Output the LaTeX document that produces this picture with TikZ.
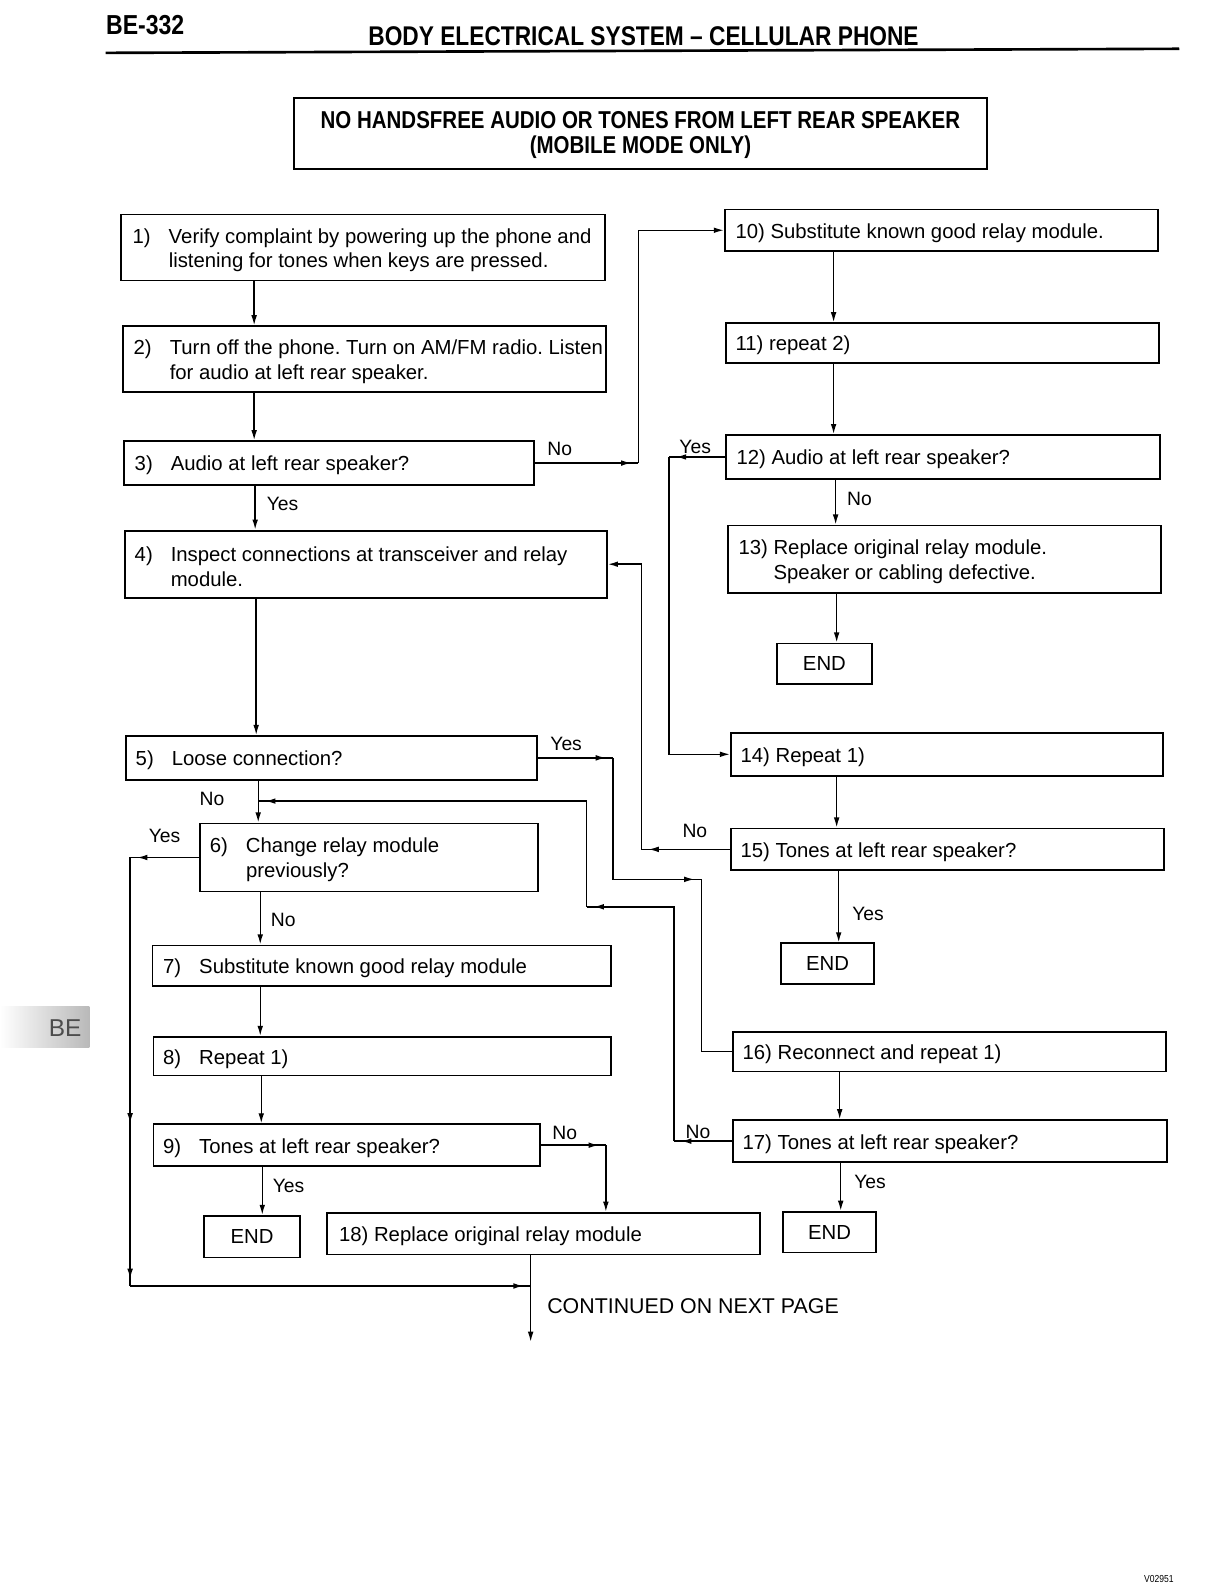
\documentclass[tikz,border=0pt]{standalone}
\usepackage{fontspec}
\setmainfont{Liberation Sans}
\newfontfamily\hdfont[FakeStretch=0.84]{Liberation Sans}
\usetikzlibrary{arrows.meta,fit,decorations.markings}
\newcommand\nm[1]{\makebox[17.75pt][l]{#1}}
\newcommand\mkbox[5]{%
  \coordinate (#1-a) at (#2,#3);
  \coordinate (#1-b) at (#4,#5);
  \node[bx,fit=(#1-a)(#1-b)] (#1) {};}
\AtBeginDocument{\frenchspacing}
\begin{document}
\begin{tikzpicture}[x=0.5pt,y=-0.5pt,
  bx/.style={draw,line width=0.9pt,inner sep=0pt},
  ln/.style={line width=0.7pt},
  arr/.style={ln,-{Latex[length=5pt,width=2.8pt]}},
  tipc/.style={ln,postaction={decorate},decoration={markings,
      mark=at position -3.5pt with {\arrow{Latex[length=5pt,width=2.8pt]}}}},
  txt/.style={font=\frenchspacing\fontsize{10}{12.2}\selectfont,align=left,inner sep=0pt,anchor=west,yshift=-1.3pt},
  lab/.style={font=\fontsize{9.5}{11}\selectfont,inner sep=0pt,anchor=west},
  endt/.style={font=\fontsize{10}{12}\selectfont,inner sep=0pt}
]
\useasboundingbox (0,0) rectangle (1190,1568);

% header
\node[anchor=west,inner sep=0pt,font={\hdfont\bfseries\fontsize{13.5}{15}\selectfont}] (pg) at (104,25) {BE-332};
\node[anchor=west,inner sep=0pt,font={\hdfont\bfseries\fontsize{13.3}{15}\selectfont}] (hd) at (362,36) {BODY ELECTRICAL SYSTEM \textendash\ CELLULAR PHONE};
\draw[line width=1.3pt] (104,52) -- (1160,48);

% side tab
\shade[left color=white,right color=gray!55] (0,990) rectangle (88,1030);
\node[font=\fontsize{12}{14}\selectfont,text=black!70] (tab) at (64,1011) {BE};

% title
\mkbox{t}{289}{96}{971}{166}
\node[align=center,inner sep=0pt,font={\hdfont\bfseries\fontsize{12}{12.5}\selectfont}] (tt) at ([yshift=-1pt]t.center) {NO HANDSFREE AUDIO OR TONES FROM LEFT REAR SPEAKER\\(MOBILE MODE ONLY)};

% left column boxes
\mkbox{b1}{119}{211}{595}{276}
\mkbox{b2}{121}{321}{596}{386}
\mkbox{b3}{122}{434}{525}{477}
\mkbox{b4}{123}{522}{597}{588}
\mkbox{b5}{124}{724}{528}{767}
\mkbox{b6}{197}{810}{529}{877}
\mkbox{b7}{150}{930}{601}{970}
\mkbox{b8}{151}{1020}{601}{1058}
\mkbox{b9}{151}{1106}{531}{1147}
\mkbox{e9}{201}{1196}{295}{1237}
\mkbox{b18}{322}{1193}{748}{1234}
% right column boxes
\mkbox{b10}{713}{206}{1139}{247}
\mkbox{b11}{714}{318}{1140}{357}
\mkbox{b12}{714}{428}{1141}{471}
\mkbox{b13}{716}{517}{1142}{583}
\mkbox{e13}{764}{633}{858}{673}
\mkbox{b14}{719}{721}{1144}{763}
\mkbox{b15}{719}{815}{1145}{856}
\mkbox{e15}{768}{928}{860}{968}
\mkbox{b16}{721}{1015}{1147}{1054}
\mkbox{b17}{721}{1102}{1148}{1143}
\mkbox{e17}{770}{1192}{862}{1232}

% box texts
\node[txt] (b1t) at ([xshift=6pt]b1.west) {\nm{1)}Verify complaint by powering up the phone and\\\nm{}listening for tones when keys are pressed.};
\node[txt] (b2t) at ([xshift=5.5pt]b2.west) {\nm{2)}Turn off the phone. Turn on AM/FM radio. Listen\\\nm{}for audio at left rear speaker.};
\node[txt] (b3t) at ([xshift=5.5pt]b3.west) {\nm{3)}Audio at left rear speaker?};
\node[txt] (b4t) at ([xshift=5pt]b4.west) {\nm{4)}Inspect connections at transceiver and relay\\\nm{}module.};
\node[txt] (b5t) at ([xshift=5pt]b5.west) {\nm{5)}Loose connection?};
\node[txt] (b6t) at ([xshift=5pt]b6.west) {\nm{6)}Change relay module\\\nm{}previously?};
\node[txt] (b7t) at ([xshift=5.5pt]b7.west) {\nm{7)}Substitute known good relay module};
\node[txt] (b8t) at ([xshift=5pt]b8.west) {\nm{8)}Repeat 1)};
\node[txt] (b9t) at ([xshift=5pt]b9.west) {\nm{9)}Tones at left rear speaker?};
\node[endt] (e9t) at (e9) {END};
\node[txt] (b18t) at ([xshift=6pt]b18.west) {18) Replace original relay module};
\node[txt] (b10t) at ([xshift=5.5pt]b10.west) {10) Substitute known good relay module.};
\node[txt] (b11t) at ([xshift=5pt]b11.west) {11) repeat 2)};
\node[txt] (b12t) at ([xshift=5.5pt]b12.west) {12) Audio at left rear speaker?};
\node[txt] (b13t) at ([xshift=5.5pt]b13.west) {13) Replace original relay module.\\\hphantom{13)}\ Speaker or cabling defective.};
\node[endt] (e13t) at (e13) {END};
\node[txt] (b14t) at ([xshift=5pt]b14.west) {14) Repeat 1)};
\node[txt] (b15t) at ([xshift=5pt]b15.west) {15) Tones at left rear speaker?};
\node[endt] (e15t) at (e15) {END};
\node[txt] (b16t) at ([xshift=5pt]b16.west) {16) Reconnect and repeat 1)};
\node[txt] (b17t) at ([xshift=5pt]b17.west) {17) Tones at left rear speaker?};
\node[endt] (e17t) at (e17) {END};

% continued
\node[anchor=west,inner sep=0pt,font=\fontsize{10.5}{12}\selectfont] (cnt) at (538,1285) {CONTINUED ON NEXT PAGE};

% corner coordinates
\coordinate (k3) at (628,455.5);
\coordinate (k5a) at (603,745.5);
\coordinate (k5b) at (603,865);
\coordinate (k5c) at (690,865);
\coordinate (k6a) at (128,843.5);
\coordinate (k6m) at (128,1112);
\coordinate (k6b) at (128,1265);
\coordinate (j18) at (522,1265);
\coordinate (ce) at (522,1320);
\coordinate (k9) at (596,1126.5);
\coordinate (k12a) at (658,449.5);
\coordinate (k15a) at (631,835.5);
\coordinate (k17a) at (663,1122.5);
\coordinate (k17b) at (663,892);
\coordinate (k17c) at (577,892);
\coordinate (k17d) at (577,788);
\coordinate (j56) at (254,788);

% left column straight connectors
\draw[arr] (b1.south -| 250,0) -- (b2.north -| 250,0);
\draw[arr] (b2.south -| 250,0) -- (b3.north -| 250,0);
\draw[arr] (b3.south -| 251,0) -- (b4.north -| 251,0);
\draw[arr] (b4.south -| 252,0) -- (b5.north -| 252,0);
\draw[arr] (b5.south -| 254,0) -- (b6.north -| 254,0);
\draw[arr] (b6.south -| 256,0) -- (b7.north -| 256,0);
\draw[arr] (b7.south -| 256,0) -- (b8.north -| 256,0);
\draw[arr] (b8.south -| 257,0) -- (b9.north -| 257,0);
\draw[arr] (b9.south -| 258,0) -- (e9.north -| 258,0);
\draw[arr] (b18.south -| ce) -- (ce);
% right column straight connectors
\draw[arr] (b10.south -| 820,0) -- (b11.north -| 820,0);
\draw[arr] (b11.south -| 820,0) -- (b12.north -| 820,0);
\draw[arr] (b12.south -| 822,0) -- (b13.north -| 822,0);
\draw[arr] (b13.south -| 823,0) -- (e13.north -| 823,0);
\draw[arr] (b14.south -| 823,0) -- (b15.north -| 823,0);
\draw[arr] (b15.south -| 825,0) -- (e15.north -| 825,0);
\draw[arr] (b16.south -| 826,0) -- (b17.north -| 826,0);
\draw[arr] (b17.south -| 827,0) -- (e17.north -| 827,0);

% branching connectors
\draw[tipc] (b3.east) -- (k3);
\draw[arr] (k3) |- (b10.west);
\draw[tipc] (b5.east) -- (k5a);
\draw[tipc] (k5a) -- (k5b) -- (k5c);
\draw[ln] (k5c) |- (b16.west);
\draw[tipc] (b6.west) -- (k6a);
\draw[tipc] (k6a) -- (k6m);
\draw[tipc] (k6m) -- (k6b);
\draw[tipc] (k6b) -- (j18);
\draw[tipc] (b9.east) -- (k9);
\draw[arr] (k9) -- (b18.north -| k9);
\draw[tipc] (b12.west) -- (k12a);
\draw[arr] (k12a) |- (b14.west);
\draw[tipc] (b15.west) -- (k15a);
\draw[arr] (k15a) |- (b4.east);
\draw[tipc] (b17.west) -- (k17a);
\draw[tipc] (k17a) -- (k17b) -- (k17c);
\draw[tipc] (k17c) -- (k17d) -- (j56);

% branch labels
\node[lab] (l3n) at (538,442) {No};
\node[lab] (l3y) at (262,496) {Yes};
\node[lab] (l5y) at (541,732) {Yes};
\node[lab] (l5n) at (196,786) {No};
\node[lab] (l6y) at (146,822) {Yes};
\node[lab] (l6n) at (266,905) {No};
\node[lab] (l9n) at (543,1114) {No};
\node[lab] (l9y) at (268,1167) {Yes};
\node[lab] (l12y) at (668,440) {Yes};
\node[lab] (l12n) at (833,491) {No};
\node[lab] (l15n) at (671,817) {No};
\node[lab] (l15y) at (838,899) {Yes};
\node[lab] (l17n) at (674,1113) {No};
\node[lab] (l17y) at (840,1163) {Yes};

% figure code
\node[inner sep=0pt,font={\hdfont\fontsize{5}{6}\selectfont}] (code) at (1140,1553) {V02951};
\end{tikzpicture}
\end{document}
